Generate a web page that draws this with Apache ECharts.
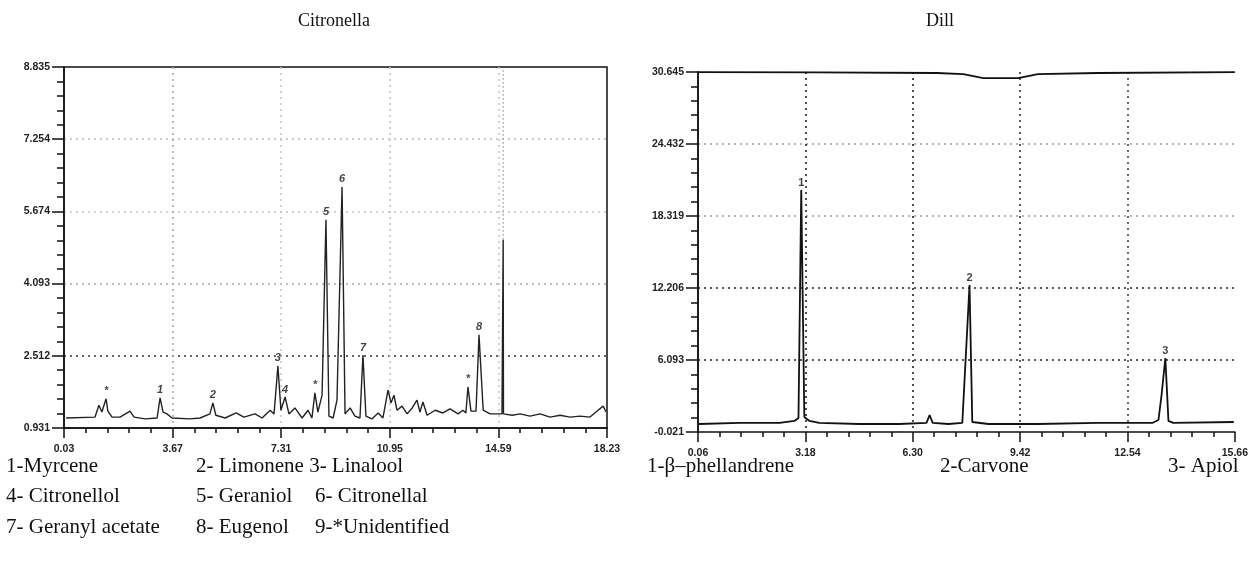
<!DOCTYPE html>
<html>
<head>
<meta charset="utf-8">
<script src="https://cdn.jsdelivr.net/npm/echarts@6/dist/echarts.min.js"></script>
<style>
html, body { margin: 0; padding: 0; background: #fff; }
#chart { width: 1251px; height: 573px; }
</style>
</head>
<body>
<div id="chart"></div>
<script>
// tick labels as printed on the two chromatograms
var citroXTicks = ["0.03", "3.67", "7.31", "10.95", "14.59", "18.23"];
var citroYTicks = ["0.931", "2.512", "4.093", "5.674", "7.254", "8.835"];
var dillXTicks = ["0.06", "3.18", "6.30", "9.42", "12.54", "15.66"];
var dillYTicks = ["-0.021", "6.093", "12.206", "18.319", "24.432", "30.645"];

// Citronella trace: [retention time, signal]
var citroTrace = [
    [0.10, 1.15], [1.07, 1.17], [1.20, 1.43], [1.30, 1.28], [1.44, 1.57], [1.50, 1.30],
    [1.64, 1.17], [1.91, 1.17], [2.24, 1.30], [2.38, 1.17], [2.75, 1.13], [3.15, 1.15],
    [3.25, 1.59], [3.35, 1.28], [3.48, 1.24], [3.65, 1.15], [4.25, 1.13], [4.59, 1.15],
    [4.92, 1.24], [5.02, 1.48], [5.12, 1.21], [5.43, 1.15], [5.80, 1.26], [6.06, 1.17],
    [6.43, 1.24], [6.67, 1.15], [6.94, 1.32], [7.07, 1.24], [7.20, 2.29], [7.30, 1.32],
    [7.44, 1.61], [7.57, 1.24], [7.77, 1.37], [8.01, 1.15], [8.21, 1.32], [8.34, 1.15],
    [8.44, 1.70], [8.54, 1.28], [8.68, 1.65], [8.81, 5.49], [8.91, 1.19], [9.05, 1.15],
    [9.18, 1.54], [9.35, 6.21], [9.45, 1.24], [9.62, 1.37], [9.78, 1.19], [9.95, 1.15],
    [10.05, 2.53], [10.15, 1.19], [10.35, 1.13], [10.56, 1.26], [10.72, 1.15], [10.89, 1.76],
    [10.99, 1.48], [11.09, 1.65], [11.19, 1.32], [11.36, 1.41], [11.53, 1.24], [11.70, 1.37],
    [11.86, 1.54], [11.96, 1.28], [12.06, 1.50], [12.20, 1.21], [12.47, 1.32], [12.73, 1.26],
    [12.97, 1.35], [13.24, 1.24], [13.40, 1.32], [13.50, 1.26], [13.57, 1.83], [13.67, 1.30],
    [13.84, 1.30], [13.94, 2.97], [14.08, 1.32], [14.31, 1.24], [14.71, 1.24], [14.75, 5.05],
    [14.76, 1.24], [15.05, 1.21], [15.32, 1.24], [15.65, 1.19], [15.99, 1.24], [16.32, 1.17],
    [16.66, 1.21], [16.99, 1.17], [17.33, 1.19], [17.66, 1.17], [17.93, 1.32], [18.10, 1.41],
    [18.20, 1.28]
];
// faint upper part of the off-scale peak
var citroTallTail = [[14.75, 5.05], [14.75, 8.80]];

var citroPeakNames = ["*", "1", "2", "3", "4", "*", "5", "6", "7", "*", "8"];
var citroPeakTimes = [1.44, 3.25, 5.02, 7.20, 7.44, 8.44, 8.81, 9.35, 10.05, 13.57, 13.94];
var citroPeakHeights = [1.57, 1.59, 1.48, 2.29, 1.61, 1.70, 5.49, 6.21, 2.53, 1.83, 2.97];

// Dill trace
var dillTrace = [
    [0.09, 0.66], [1.27, 0.75], [2.43, 0.75], [2.86, 0.92], [2.98, 1.17], [3.06, 20.59],
    [3.15, 1.26], [3.30, 0.92], [3.58, 0.75], [4.74, 0.66], [5.90, 0.66], [6.70, 0.75],
    [6.79, 1.43], [6.88, 0.75], [7.34, 0.66], [7.74, 0.75], [7.95, 12.50], [8.03, 0.83],
    [8.50, 0.66], [9.94, 0.66], [11.67, 0.75], [13.26, 0.75], [13.44, 1.00], [13.53, 3.13],
    [13.64, 6.28], [13.73, 0.92], [13.87, 0.75], [15.63, 0.83]
];
// second trace running along the top of the Dill plot
var dillTopTrace = [
    [0.06, 30.64], [3.50, 30.62], [7.00, 30.56], [7.77, 30.47], [8.35, 30.13],
    [9.36, 30.13], [9.94, 30.47], [11.67, 30.56], [15.66, 30.64]
];
var dillPeakNames = ["1", "2", "3"];
var dillPeakTimes = [3.06, 7.95, 13.64];
var dillPeakHeights = [20.59, 12.50, 6.28];

var citroLegend = [
    ["1-Myrcene", "2- Limonene 3- Linalool"],
    ["4- Citronellol", "5- Geraniol", "6- Citronellal"],
    ["7- Geranyl acetate", "8- Eugenol", "9-*Unidentified"]
];
var dillLegend = ["1-\u03b2\u2013phellandrene", "2-Carvone", "3- Apiol"];

// map raw values onto axes that run 0..5 so ticks fall on the printed labels
function scaler(ticks) {
    var a = parseFloat(ticks[0]);
    var step = (parseFloat(ticks[ticks.length - 1]) - a) / (ticks.length - 1);
    return function (v) { return (v - a) / step; };
}
var cx = scaler(citroXTicks), cy = scaler(citroYTicks);
var dx = scaler(dillXTicks), dy = scaler(dillYTicks);

function mapPts(pts, fx, fy) {
    return pts.map(function (p) { return [fx(p[0]), fy(p[1])]; });
}
function peakPts(names, times, heights, fx, fy) {
    return names.map(function (n, i) {
        return { name: n, value: [fx(times[i]), fy(heights[i])] };
    });
}

var tickFont = {
    color: "#222",
    fontFamily: "Liberation Sans, Arial",
    fontWeight: "bold",
    fontSize: 10.5
};

function makeAxis(grid, ticks, isX, splitColors) {
    return {
        type: "value",
        gridIndex: grid,
        min: 0,
        max: ticks.length - 1,
        interval: 1,
        axisLine: { show: true, onZero: false, lineStyle: { color: "#111", width: 1.5 } },
        axisTick: { show: true, length: isX ? 10 : 12, lineStyle: { color: "#111", width: 1.5 } },
        minorTick: { show: true, splitNumber: 5, length: isX ? 5 : 7, lineStyle: { color: "#111", width: 1.5 } },
        splitLine: {
            show: true,
            showMinLine: false,
            showMaxLine: false,
            lineStyle: { color: splitColors, type: [2, 4], width: 1.6 }
        },
        axisLabel: Object.assign({
            margin: isX ? 16 : 14,
            formatter: function (v) { return ticks[Math.round(v)]; }
        }, tickFont)
    };
}

var chart = echarts.init(document.getElementById("chart"));

var legendFont = "21px 'Liberation Serif'";
var graphics = [
    { type: "text", left: 298, top: 12, style: { text: "Citronella", font: "18px 'Liberation Serif'", fill: "#111" } },
    { type: "text", left: 926, top: 12, style: { text: "Dill", font: "18px 'Liberation Serif'", fill: "#111" } }
];
var legendCols = [6, 196, 315];
var legendRows = [456, 486, 517];
citroLegend.forEach(function (row, r) {
    row.forEach(function (txt, c) {
        graphics.push({
            type: "text", left: legendCols[c], top: legendRows[r],
            style: { text: txt, font: legendFont, fill: "#111" }
        });
    });
});
var dillCols = [647, 940, 1168];
dillLegend.forEach(function (txt, c) {
    graphics.push({
        type: "text", left: dillCols[c], top: legendRows[0],
        style: { text: txt, font: legendFont, fill: "#111" }
    });
});

var peakLabel = {
    show: true,
    position: "top",
    distance: 2,
    formatter: "{b}",
    color: "#111",
    fontFamily: "Liberation Sans, Arial",
    fontWeight: "bold",
    fontStyle: "italic",
    fontSize: 11
};

chart.setOption({
    animation: false,
    backgroundColor: "#fff",
    graphic: graphics,
    grid: [
        { left: 64, top: 67, width: 543, height: 361, show: true, borderColor: "#111", borderWidth: 1.5 },
        { left: 698, top: 72, width: 540, height: 360 }
    ],
    xAxis: [
        makeAxis(0, citroXTicks, true, ["#aaa", "#c4c4c4", "#c4c4c4", "#c8c8c8"]),
        makeAxis(1, dillXTicks, true, ["#222", "#222", "#333", "#444"])
    ],
    yAxis: [
        makeAxis(0, citroYTicks, false, ["#333", "#aaa", "#c4c4c4", "#bbb"]),
        makeAxis(1, dillYTicks, false, ["#222", "#222", "#999", "#999"]),
        {
            type: "value", gridIndex: 1, position: "right", min: 0, max: 5,
            axisLine: { show: true, lineStyle: { color: "#111", width: 1.5 } },
            axisTick: { show: false }, axisLabel: { show: false }, splitLine: { show: false }
        }
    ],
    series: [
        {
            name: "Citronella", type: "line", xAxisIndex: 0, yAxisIndex: 0,
            data: mapPts(citroTrace, cx, cy), symbol: "none",
            lineStyle: { color: "#222", width: 1.4 }
        },
        {
            name: "tail", type: "line", xAxisIndex: 0, yAxisIndex: 0,
            data: mapPts(citroTallTail, cx, cy), symbol: "none",
            lineStyle: { color: "#aaa", width: 1.2, type: [2, 2] }
        },
        {
            name: "citroPeaks", type: "scatter", xAxisIndex: 0, yAxisIndex: 0,
            data: peakPts(citroPeakNames, citroPeakTimes, citroPeakHeights, cx, cy),
            symbolSize: 0, label: peakLabel
        },
        {
            name: "Dill", type: "line", xAxisIndex: 1, yAxisIndex: 1,
            data: mapPts(dillTrace, dx, dy), symbol: "none",
            lineStyle: { color: "#111", width: 1.8 }
        },
        {
            name: "DillTop", type: "line", xAxisIndex: 1, yAxisIndex: 1,
            data: mapPts(dillTopTrace, dx, dy), symbol: "none",
            lineStyle: { color: "#111", width: 1.8 }
        },
        {
            name: "dillPeaks", type: "scatter", xAxisIndex: 1, yAxisIndex: 1,
            data: peakPts(dillPeakNames, dillPeakTimes, dillPeakHeights, dx, dy),
            symbolSize: 0, label: Object.assign({}, peakLabel, { fontStyle: "normal" })
        }
    ]
});
</script>
</body>
</html>
